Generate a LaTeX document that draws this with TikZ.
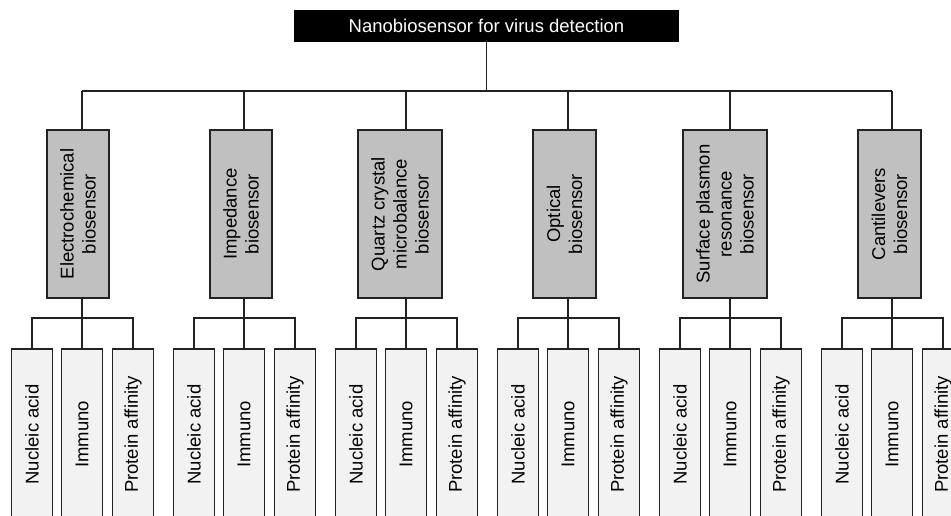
\documentclass[tikz,border=0pt]{standalone}
\usepackage{fontspec}
\setmainfont{Liberation Sans}
\definecolor{catgray}{HTML}{C0C0C0}
\definecolor{leafgray}{HTML}{F2F2F2}
\definecolor{edge}{HTML}{222222}
\begin{document}
\begin{tikzpicture}[x=1pt,y=-1pt,
  topbox/.style={fill=black,text=white,minimum width=385pt,minimum height=32pt,inner sep=0pt,
    font=\fontsize{18.5}{21.5}\selectfont},
  catbox/.style={draw=edge,fill=catgray,line width=1.3pt,rotate=90,minimum width=168pt,inner sep=0pt,
    align=center,font=\fontsize{18.5}{22}\selectfont},
  leafbox/.style={draw=edge,fill=leafgray,line width=1.3pt,rotate=90,minimum width=171pt,
    minimum height=41pt,inner sep=0pt,font=\fontsize{18.5}{22}\selectfont},
  conn/.style={line width=1.2pt,draw=edge}]
\useasboundingbox (0,0) rectangle (951,516);
\clip (0,0) rectangle (951,516);

\node[topbox] (top) at (486.5,26) {Nanobiosensor for virus detection};
\coordinate (bus) at (486.5,91);
\draw[conn] (top.south) -- (bus);

\node[catbox,minimum height=62pt] (c1) at (78,214) {Electrochemical\\biosensor};
\node[catbox,minimum height=62pt] (c2) at (241,214) {Impedance\\biosensor};
\node[catbox,minimum height=84pt] (c3) at (400,214) {Quartz crystal\\microbalance\\biosensor};
\node[catbox,minimum height=63pt] (c4) at (564.5,214) {Optical\\biosensor};
\node[catbox,minimum height=84pt] (c5) at (725,214) {Surface plasmon\\resonance\\biosensor};
\node[catbox,minimum height=63pt] (c6) at (889.5,214) {Cantilevers\\biosensor};

\foreach \i/\gc in {1/82,2/244,3/406,4/568,5/730,6/892}{
  \coordinate (b\i) at (\gc,91);
  \coordinate (s\i) at (\gc,318);
}
\draw[conn] (b1) -- (b6);

\foreach \i/\gc in {1/82,2/244,3/406,4/568,5/730,6/892}{
  \node[leafbox] (n\i) at (\gc-50,434.5) {Nucleic acid};
  \node[leafbox] (m\i) at (\gc,434.5) {Immuno};
  \node[leafbox] (p\i) at (\gc+51,434.5) {Protein affinity};
  \draw[conn] (b\i) -- (b\i |- c\i.east);
  \draw[conn] (b\i |- c\i.west) -- (s\i);
  \draw[conn] (n\i.east) -- (n\i |- s\i) -- (p\i |- s\i) -- (p\i.east);
  \draw[conn] (s\i) -- (m\i.east);
}
\end{tikzpicture}
\end{document}
